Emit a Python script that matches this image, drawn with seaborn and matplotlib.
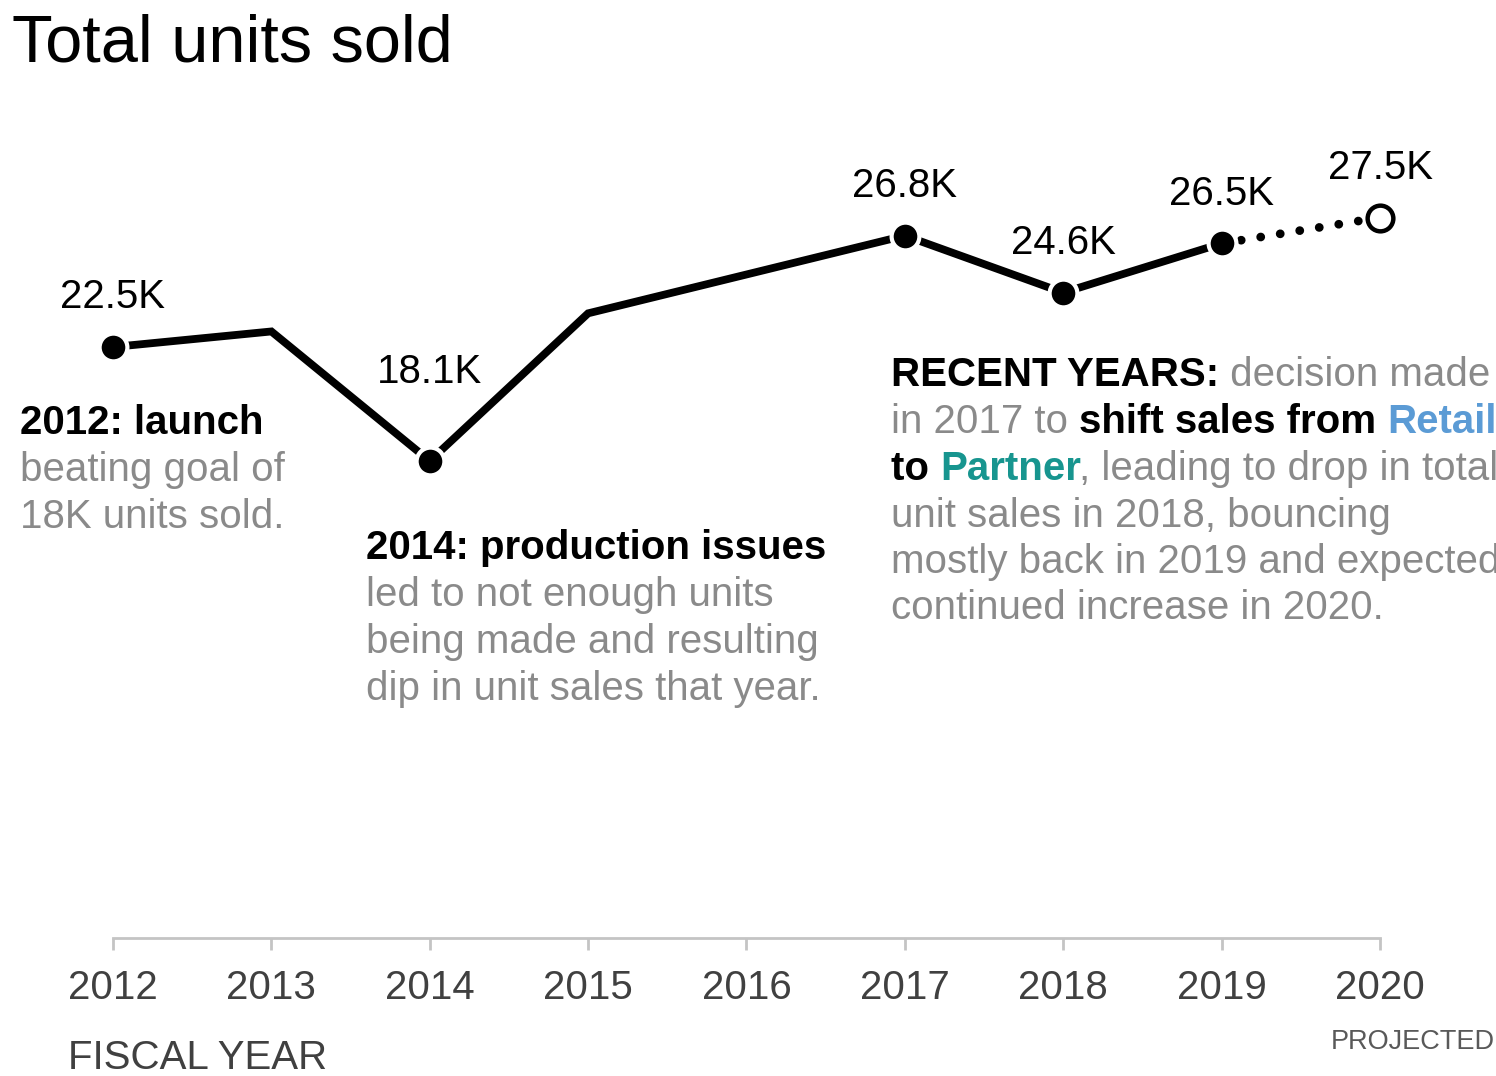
import matplotlib
matplotlib.use("Agg")
import matplotlib.pyplot as plt
import seaborn as sns
import pandas as pd

# ---- data -------------------------------------------------------------
years = [2012, 2013, 2014, 2015, 2016, 2017, 2018, 2019]
units_k = [22.5, 23.1, 18.1, 23.8, 25.3, 26.8, 24.6, 26.5]
proj_years = [2019, 2020]
proj_units_k = [26.5, 27.5]
labeled_years = [2012, 2014, 2017, 2018, 2019]
labeled_units_k = [22.5, 18.1, 26.8, 24.6, 26.5]
tick_years = list(range(2012, 2021))

# ---- style ------------------------------------------------------------
sns.set_style("white")
plt.rcParams["font.family"] = ["Liberation Sans", "DejaVu Sans"]

W, H = 1496, 1076
DPI = 100
BLACK = "#000000"
GREY = "#8a8a8a"
DARK = "#404040"
BLUE = "#5b9bd5"
TEAL = "#17958f"
AXIS_GREY = "#c4c4c4"
FS = 29

fig = plt.figure(figsize=(W / DPI, H / DPI), dpi=DPI)
fig.patch.set_facecolor("white")

# axes placed in pixels: x = 2011.5..2020.5, y = 0..30
left_px, right_px = 33.8, 1459.2
bottom_px, top_px = 929.75, 152.75
ax = fig.add_axes([left_px / W, 1 - bottom_px / H,
                   (right_px - left_px) / W, (bottom_px - top_px) / H])
ax.set_xlim(2011.5, 2020.5)
ax.set_ylim(0, 30)

df = pd.DataFrame({"year": years, "units": units_k})
proj = pd.DataFrame({"year": proj_years, "units": proj_units_k})
marks = pd.DataFrame({"year": labeled_years, "units": labeled_units_k})

# actual sales line
sns.lineplot(data=df, x="year", y="units", ax=ax, color=BLACK,
             linewidth=5.6, solid_joinstyle="miter", zorder=2, clip_on=False)
# projected segment, dotted
sns.lineplot(data=proj, x="year", y="units", ax=ax, color=BLACK,
             linewidth=6.3, linestyle=(0, (0.01, 2.25)),
             dash_capstyle="round", zorder=2, clip_on=False)
# filled markers on annotated years
sns.scatterplot(data=marks, x="year", y="units", ax=ax, color=BLACK,
                s=20 ** 2, edgecolor="white", linewidth=3, zorder=3,
                clip_on=False, legend=False)
# open marker for projection
ax.scatter([proj_years[-1]], [proj_units_k[-1]], s=18.5 ** 2, facecolor="white",
           edgecolor=BLACK, linewidth=3.2, zorder=3, clip_on=False)

# value labels
for x, y in zip(labeled_years + [proj_years[-1]], labeled_units_k + [proj_units_k[-1]]):
    off = 56 if y < 20 else 28
    ax.annotate(f"{y:.1f}K", xy=(x, y), xytext=(0, off),
                textcoords="offset points", ha="center", va="baseline",
                fontsize=FS, color=BLACK)

# axis styling
for side in ["left", "right", "top"]:
    ax.spines[side].set_visible(False)
ax.spines["bottom"].set_position(("outward", 6))
ax.spines["bottom"].set_bounds(2012, 2020)
ax.spines["bottom"].set_color(AXIS_GREY)
ax.spines["bottom"].set_linewidth(2)
ax.set_xticks(tick_years)
ax.set_xticklabels([str(t) for t in tick_years])
ax.set_yticks([])
ax.tick_params(axis="x", direction="out", length=8.5, width=2,
               color=AXIS_GREY, labelsize=FS, labelcolor=DARK, pad=14,
               bottom=True)
ax.set_xlabel("")
ax.set_ylabel("")
ax.grid(False)

# ---- text helpers -------------------------------------------------------
renderer = fig.canvas.get_renderer()


def advance(s, **kw):
    a = fig.text(0, 0, "." + s + ".", **kw)
    b = fig.text(0, 0, "..", **kw)
    w = a.get_window_extent(renderer).width - b.get_window_extent(renderer).width
    a.remove()
    b.remove()
    return w


def rich_line(x_px, base_px, pieces, size=FS):
    x = x_px
    for s, color, weight in pieces:
        kw = dict(fontsize=size, color=color, fontweight=weight)
        fig.text(x / W, 1 - base_px / H, s, ha="left", va="baseline", **kw)
        x += advance(s, **kw)


# title
fig.text(12 / W, 1 - 62 / H, "Total units sold", fontsize=48, color=BLACK,
         ha="left", va="baseline")

# axis captions
fig.text(68 / W, 1 - 1069 / H, "FISCAL YEAR", fontsize=FS, color=DARK,
         ha="left", va="baseline")
fig.text(1495 / W, 1 - 1049 / H, "PROJECTED", fontsize=19.5, color="#595959",
         ha="right", va="baseline")

# 2012 note
rich_line(20, 434, [("2012: launch", BLACK, "bold")])
rich_line(20, 481, [("beating goal of", GREY, "normal")])
rich_line(20, 528, [("18K units sold.", GREY, "normal")])

# 2014 note
rich_line(366, 559, [("2014: production issues", BLACK, "bold")])
rich_line(366, 606, [("led to not enough units", GREY, "normal")])
rich_line(366, 653, [("being made and resulting", GREY, "normal")])
rich_line(366, 700, [("dip in unit sales that year.", GREY, "normal")])

# recent years note
rx = 891
rich_line(rx, 386, [("RECENT YEARS:", BLACK, "bold"),
                    (" decision made", GREY, "normal")])
rich_line(rx, 433, [("in 2017 to ", GREY, "normal"),
                    ("shift sales from ", BLACK, "bold"),
                    ("Retail", BLUE, "bold")])
rich_line(rx, 480, [("to ", BLACK, "bold"),
                    ("Partner", TEAL, "bold"),
                    (", leading to drop in total", GREY, "normal")])
rich_line(rx, 527, [("unit sales in 2018, bouncing", GREY, "normal")])
rich_line(rx, 573, [("mostly back in 2019 and expected", GREY, "normal")])
rich_line(rx, 619, [("continued increase in 2020.", GREY, "normal")])

fig.savefig("out.png", dpi=DPI, facecolor="white")
